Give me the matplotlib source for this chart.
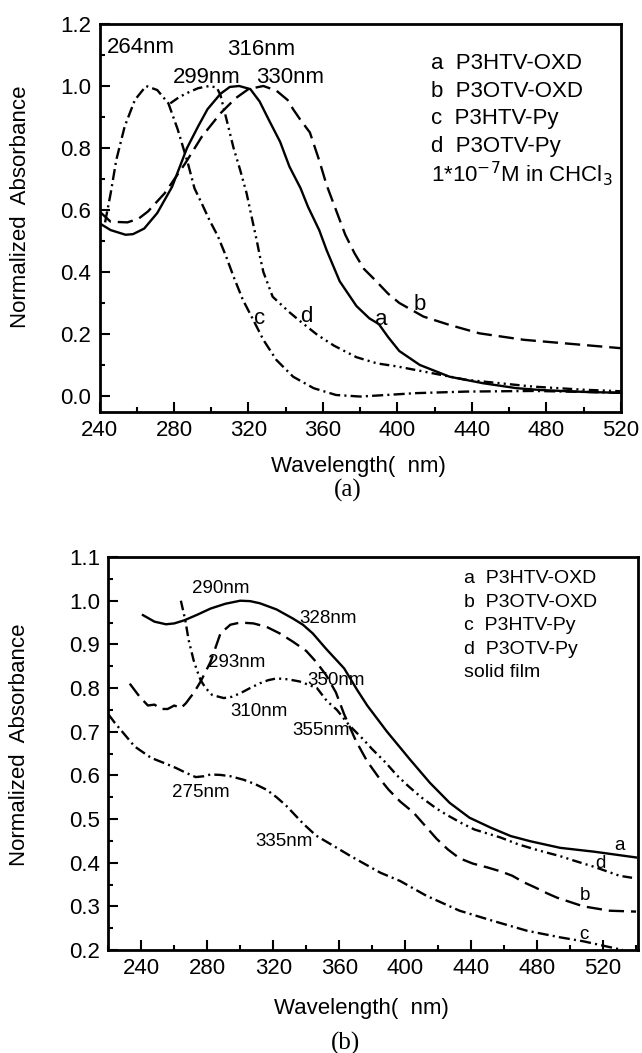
import numpy as np
import matplotlib
matplotlib.use('Agg')
import matplotlib.pyplot as plt
from matplotlib.ticker import MultipleLocator, FormatStrFormatter

plt.rcParams['font.family'] = ['Liberation Sans', 'DejaVu Sans']
plt.rcParams['lines.scale_dashes'] = False

# ---- (a) solution spectra ----
a_top_wl = [240, 246, 254, 258, 264, 271, 279, 287, 293, 298, 305, 310, 315, 321, 326, 331, 337, 342,
            348, 352, 358, 362, 369, 378, 385, 390, 395, 401, 412, 428, 446, 464, 477, 500, 520]
a_top_abs = [0.557, 0.535, 0.52, 0.522, 0.54, 0.59, 0.675, 0.80, 0.87, 0.925, 0.975, 0.997, 1.0, 0.99,
             0.95, 0.89, 0.82, 0.74, 0.67, 0.61, 0.535, 0.47, 0.37, 0.29, 0.25, 0.232, 0.19, 0.145,
             0.10, 0.062, 0.041, 0.025, 0.019, 0.013, 0.01]

b_top_wl = [240, 246, 255, 261, 266, 275, 286, 295, 305, 313, 320, 328, 335, 341, 344, 348, 353, 358,
            362, 367, 372, 377, 382, 388, 395, 401, 414, 428, 444, 468, 495, 520]
b_top_abs = [0.595, 0.562, 0.56, 0.572, 0.595, 0.654, 0.75, 0.837, 0.912, 0.96, 0.99, 1.0, 0.985, 0.955,
             0.925, 0.89, 0.85, 0.76, 0.68, 0.60, 0.52, 0.46, 0.41, 0.374, 0.33, 0.30, 0.256, 0.229,
             0.202, 0.181, 0.167, 0.154]

c_top_wl = [243, 246, 249, 253.5, 259, 265, 271, 277, 282, 287.5, 291, 295, 299, 303.6, 308, 312, 317,
            322.6, 328, 335, 344, 355, 367, 380, 394, 410, 437, 473, 500, 520]
c_top_abs = [0.56, 0.654, 0.761, 0.869, 0.955, 1.0, 0.987, 0.944, 0.86, 0.75, 0.67, 0.62, 0.568, 0.515,
             0.45, 0.385, 0.31, 0.245, 0.181, 0.116, 0.062, 0.025, 0.003, -0.002, 0.003, 0.009, 0.014,
             0.016, 0.013, 0.01]

d_top_wl = [278, 283, 288, 293, 299, 303, 305, 306.5, 308.3, 312, 315.5, 319, 321.7, 324.4, 326.2, 328,
            333, 342, 348, 357, 366, 378, 389, 400, 419, 437, 455, 473, 500, 520]
d_top_abs = [0.944, 0.965, 0.98, 0.993, 1.0, 0.995, 0.97, 0.933, 0.89, 0.80, 0.73, 0.654, 0.578, 0.503,
             0.449, 0.40, 0.32, 0.27, 0.24, 0.197, 0.162, 0.125, 0.105, 0.095, 0.073, 0.052, 0.041,
             0.03, 0.02, 0.015]

# ---- (b) solid film spectra ----
a_bot_wl = [241, 248, 255, 260, 266, 274, 282, 291, 300, 306, 312, 322, 332, 338, 344, 352, 363, 371,
            377, 385, 389, 396, 403, 415, 427, 439, 452, 464, 476, 494, 515, 540]
a_bot_abs = [0.967, 0.952, 0.946, 0.948, 0.955, 0.968, 0.982, 0.993, 1.0, 0.999, 0.994, 0.98, 0.959,
             0.945, 0.925, 0.89, 0.845, 0.795, 0.76, 0.72, 0.70, 0.668, 0.636, 0.583, 0.537, 0.503,
             0.48, 0.461, 0.449, 0.434, 0.425, 0.412]

b_bot_wl = [233, 239, 244, 248, 252, 256, 260, 264, 267, 272, 276, 282, 288, 294, 300, 308, 316, 324,
            332, 340, 346, 352, 358, 363, 370, 377, 384, 390, 397, 405, 412, 419, 426, 433, 441, 450,
            458, 465, 472, 479, 486, 492, 500, 508, 516, 524, 540]
b_bot_abs = [0.81, 0.78, 0.76, 0.762, 0.752, 0.752, 0.76, 0.754, 0.765, 0.79, 0.815, 0.86, 0.925, 0.945,
             0.95, 0.948, 0.94, 0.925, 0.906, 0.885, 0.86, 0.83, 0.79, 0.74, 0.68, 0.632, 0.595, 0.567,
             0.54, 0.515, 0.485, 0.455, 0.43, 0.41, 0.398, 0.389, 0.38, 0.37, 0.355, 0.343, 0.33, 0.32,
             0.31, 0.30, 0.295, 0.29, 0.288]

c_bot_wl = [220, 224, 230, 236, 246, 254, 261, 267, 273, 278, 282, 288, 294, 302, 309, 316, 322, 328,
            333, 338, 346, 355, 367, 385, 397, 413, 433, 453, 474, 494, 508, 520, 532]
c_bot_abs = [0.74, 0.72, 0.693, 0.666, 0.64, 0.628, 0.617, 0.606, 0.596, 0.598, 0.602, 0.601, 0.598,
             0.59, 0.58, 0.567, 0.55, 0.53, 0.51, 0.49, 0.462, 0.442, 0.415, 0.377, 0.358, 0.324, 0.29,
             0.267, 0.244, 0.229, 0.22, 0.21, 0.20]

d_bot_wl = [264, 266.7, 268.7, 271.7, 273.8, 276, 279, 283, 290, 295, 300, 306, 312, 317, 322, 329, 336,
            341, 346.5, 352.6, 358.6, 366, 374.7, 380, 388, 395, 402, 410, 419, 425, 434.5, 442, 448,
            457.6, 468.6, 481, 494, 503, 515, 530, 540]
d_bot_abs = [1.0, 0.955, 0.91, 0.864, 0.84, 0.818, 0.80, 0.784, 0.777, 0.78, 0.788, 0.80, 0.811, 0.818,
             0.822, 0.82, 0.815, 0.808, 0.80, 0.77, 0.75, 0.715, 0.682, 0.66, 0.63, 0.60, 0.575, 0.549,
             0.524, 0.51, 0.49, 0.476, 0.469, 0.458, 0.442, 0.428, 0.415, 0.404, 0.39, 0.37, 0.364]

legend_top = ['a  P3HTV-OXD', 'b  P3OTV-OXD', 'c  P3HTV-Py', 'd  P3OTV-Py',
              '1*10$^{-7}$M in CHCl$_3$']
legend_bot = ['a  P3HTV-OXD', 'b  P3OTV-OXD', 'c  P3HTV-Py', 'd  P3OTV-Py', 'solid film']

styles = {
    'a': dict(linestyle='-'),
    'b': dict(linestyle=(0, (11, 5))),
    'c': dict(linestyle=(0, (8, 3, 1.5, 3))),
    'd': dict(linestyle=(0, (7, 3, 1.5, 3, 1.5, 3))),
}


def style_axes(ax, ymajor, yminor):
    ax.xaxis.set_major_locator(MultipleLocator(40))
    ax.xaxis.set_minor_locator(MultipleLocator(20))
    ax.yaxis.set_major_locator(MultipleLocator(ymajor))
    ax.yaxis.set_minor_locator(MultipleLocator(yminor))
    ax.yaxis.set_major_formatter(FormatStrFormatter('%.1f'))
    ax.tick_params(which='both', direction='in', width=1.5, top=False, right=False)
    ax.tick_params(which='major', length=7, labelsize=16, pad=6)
    ax.tick_params(which='minor', length=3.5)
    for s in ax.spines.values():
        s.set_linewidth(2.0)


fig = plt.figure(figsize=(6.42, 10.53), dpi=100)
lw = 1.7

# ---------- panel (a) ----------
ax1 = fig.add_axes([0.155, 0.6087, 0.812, 0.3685])
ax1.plot(a_top_wl, a_top_abs, color='k', lw=lw, **styles['a'])
ax1.plot(b_top_wl, b_top_abs, color='k', lw=lw, **styles['b'])
ax1.plot(c_top_wl, c_top_abs, color='k', lw=lw, **styles['c'])
ax1.plot(d_top_wl, d_top_abs, color='k', lw=lw, **styles['d'])
ax1.set_xlim(240, 520)
ax1.set_ylim(-0.052, 1.2)
style_axes(ax1, 0.2, 0.1)
ax1.set_xlabel('Wavelength(  nm)', fontsize=16)
ax1.set_ylabel('Normalized  Absorbance', fontsize=16)
ax1.xaxis.set_label_coords(0.496, -0.114)
ax1.yaxis.set_label_coords(-0.131, 0.529)

pk = 16
ax1.text(262, 1.124, '264nm', fontsize=pk, ha='center', va='center')
ax1.text(326.7, 1.119, '316nm', fontsize=pk, ha='center', va='center')
ax1.text(297.6, 1.027, '299nm', fontsize=pk, ha='center', va='center')
ax1.text(342.3, 1.027, '330nm', fontsize=pk, ha='center', va='center')
ax1.text(326.2, 0.25, 'c', fontsize=pk, ha='center', va='center')
ax1.text(350.9, 0.256, 'd', fontsize=pk, ha='center', va='center')
ax1.text(391.2, 0.245, 'a', fontsize=pk, ha='center', va='center')
ax1.text(412.1, 0.294, 'b', fontsize=pk, ha='center', va='center')

for i, t in enumerate(legend_top):
    ax1.text(418, 1.072 - i * 0.089, t, fontsize=16, ha='left', va='center')

fig.text(348 / 642, 1 - 490 / 1053, '(a)', fontsize=18, ha='center', va='center',
         family='Liberation Serif')

# ---------- panel (b) ----------
ax2 = fig.add_axes([0.1687, 0.0978, 0.8246, 0.3732])
ax2.plot(a_bot_wl, a_bot_abs, color='k', lw=lw, **styles['a'])
ax2.plot(b_bot_wl, b_bot_abs, color='k', lw=lw, **styles['b'])
ax2.plot(c_bot_wl, c_bot_abs, color='k', lw=lw, **styles['c'])
ax2.plot(d_bot_wl, d_bot_abs, color='k', lw=lw, **styles['d'])
ax2.set_xlim(220, 541)
ax2.set_ylim(0.2, 1.1)
style_axes(ax2, 0.1, 0.05)
ax2.set_xlabel('Wavelength(  nm)', fontsize=16)
ax2.set_ylabel('Normalized  Absorbance', fontsize=16)
ax2.xaxis.set_label_coords(0.479, -0.123)
ax2.yaxis.set_label_coords(-0.148, 0.522)

pb = 13.5
ax2.text(287.9, 1.028, '290nm', fontsize=pb, ha='center', va='center')
ax2.text(353, 0.959, '328nm', fontsize=pb, ha='center', va='center')
ax2.text(298, 0.858, '293nm', fontsize=pb, ha='center', va='center')
ax2.text(358, 0.817, '350nm', fontsize=pb, ha='center', va='center')
ax2.text(311.5, 0.746, '310nm', fontsize=pb, ha='center', va='center')
ax2.text(349, 0.703, '355nm', fontsize=pb, ha='center', va='center')
ax2.text(276.3, 0.56, '275nm', fontsize=pb, ha='center', va='center')
ax2.text(326.7, 0.449, '335nm', fontsize=pb, ha='center', va='center')
ax2.text(529.7, 0.44, 'a', fontsize=pb, ha='center', va='center')
ax2.text(518.5, 0.398, 'd', fontsize=pb, ha='center', va='center')
ax2.text(509, 0.324, 'b', fontsize=pb, ha='center', va='center')
ax2.text(508.5, 0.236, 'c', fontsize=pb, ha='center', va='center')

for i, t in enumerate(legend_bot):
    ax2.text(435.7, 1.051 - i * 0.054, t, fontsize=14, ha='left', va='center')

fig.text(346 / 642, 1 - 1043 / 1053, '(b)', fontsize=18, ha='center', va='center',
         family='Liberation Serif')

fig.savefig('out.png', dpi=100)
